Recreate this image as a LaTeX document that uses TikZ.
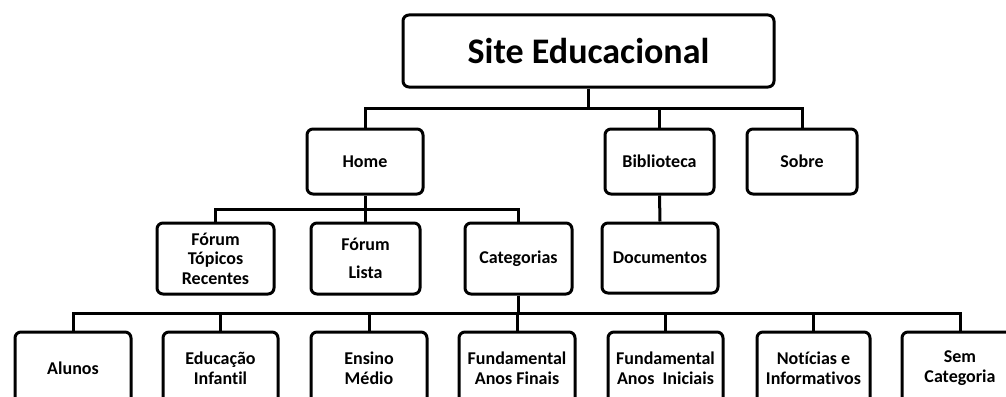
\documentclass[tikz,border=0pt]{standalone}
\usepackage{fontspec}
\setmainfont[Ligatures=NoCommon]{Carlito}
\begin{document}
\begin{tikzpicture}[x=1pt,y=-1pt,
  box/.style={draw=black,line width=3pt,rounded corners=6pt,fill=white,
    inner sep=1pt,align=center,font=\bfseries\fontsize{18}{19.5}\selectfont},
  conn/.style={line width=3pt}]
\useasboundingbox (0,0) rectangle (1006,396);
% top
\node[box,minimum width=371pt,minimum height=72pt,
  font=\bfseries\fontsize{36}{40}\selectfont] (top) at (588.5,51) {Site Educacional};
% level 2
\node[box,minimum width=116pt,minimum height=65pt] (home) at (365,161.5) {Home};
\node[box,minimum width=109pt,minimum height=65pt] (bib) at (659.5,161.5) {Biblioteca};
\node[box,minimum width=110pt,minimum height=65pt] (sobre) at (802,161.5) {Sobre};
% level 3
\node[box,minimum width=117pt,minimum height=71pt] (ftr) at (215.5,258.5) {Fórum\\Tópicos\\Recentes};
\node[box,minimum width=109pt,minimum height=71pt,
  font=\bfseries\fontsize{18}{27.5}\selectfont] (fl) at (365.5,258.5) {Fórum\\Lista};
\node[box,minimum width=107pt,minimum height=71pt] (cat) at (518.5,258.5) {Categorias};
\node[box,minimum width=116pt,minimum height=70pt] (doc) at (660,258) {Documentos};
% level 4
\node[box,minimum width=116pt,minimum height=72pt] (alu) at (73,368) {Alunos};
\node[box,minimum width=115pt,minimum height=72pt] (edu) at (220.5,368) {Educação\\Infantil};
\node[box,minimum width=116pt,minimum height=72pt] (ens) at (369,368) {Ensino\\Médio};
\node[box,minimum width=116pt,minimum height=72pt] (ff) at (517,368) {Fundamental\\Anos Finais};
\node[box,minimum width=115pt,minimum height=72pt] (fi) at (665.5,368) {Fundamental\\Anos\ \ Iniciais};
\node[box,minimum width=113pt,minimum height=72pt] (not) at (813.5,368) {Notícias e\\Informativos};
\node[box,minimum width=116pt,minimum height=72pt] (sem) at (960,368) {Sem\\Categoria};
% bus coordinates
\coordinate (b1) at (0,108);
\coordinate (b2) at (0,209);
\coordinate (b3) at (0,313);
% connectors
\draw[conn] (top.south) -- (top.south |- b1);
\draw[conn] (home.north) -- (home.north |- b1) -- (sobre.north |- b1) -- (sobre.north);
\draw[conn] (bib.north) -- (bib.north |- b1);
\draw[conn] (home.south) -- (home.south |- b2);
\draw[conn] (ftr.north) -- (ftr.north |- b2) -- (cat.north |- b2) -- (cat.north);
\draw[conn] (fl.north) -- (fl.north |- b2);
\draw[conn] (bib.south) -- (doc.north);
\draw[conn] (cat.south) -- (cat.south |- b3);
\draw[conn] (alu.north) -- (alu.north |- b3) -- (sem.north |- b3) -- (sem.north);
\foreach \n in {edu,ens,ff,fi,not}{\draw[conn] (\n.north) -- (\n.north |- b3);}
\end{tikzpicture}
\end{document}
